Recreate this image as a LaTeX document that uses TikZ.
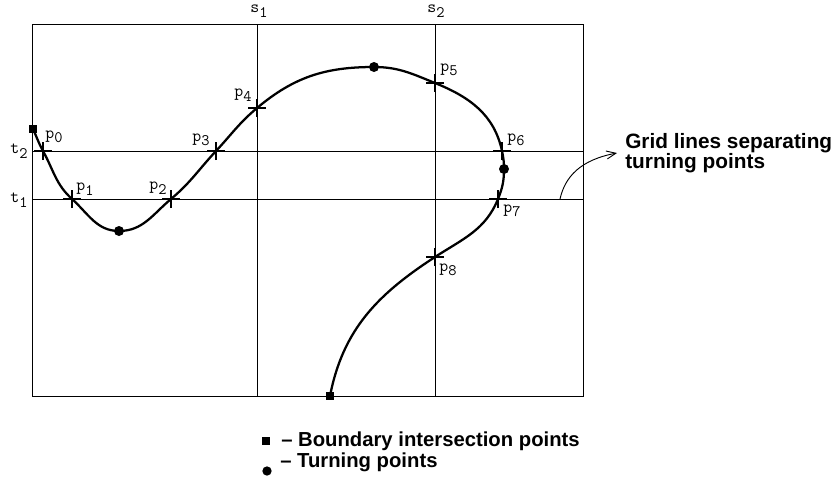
\documentclass[tikz,border=0pt]{standalone}
\usepackage{fontspec}
\newfontfamily\hv{Liberation Sans}
\usetikzlibrary{arrows.meta}
\newcommand{\sublab}[2]{\fontsize{13}{13}\selectfont\ttfamily #1\raisebox{-0.6ex}{\fontsize{12}{12}\selectfont #2}}
\begin{document}
\begin{tikzpicture}[x=0.75pt,y=0.75pt,
  gridline/.style={line width=0.75pt},
  curveline/.style={line width=1.7pt},
  xmark/.style={line width=1.9pt},
  bsq/.style={fill=black,draw=none,minimum size=6.5pt,inner sep=0pt,rectangle},
  tcirc/.style={fill=black,draw=none,minimum size=7.5pt,inner sep=0pt,circle},
  lab/.style={inner sep=0pt,anchor=center},
  legtext/.style={font=\hv\bfseries\fontsize{15.2}{15.2}\selectfont,inner sep=0pt,anchor=base west},
  annot/.style={font=\hv\bfseries\fontsize{15.6}{15.6}\selectfont,inner sep=0pt,anchor=base west}]
\useasboundingbox (0,0) rectangle (838,-486);
% frame and grid
\coordinate (TL) at (32,-24);
\coordinate (BR) at (583,-396);
\draw[gridline] (TL) rectangle (BR);
\coordinate (s1t) at (257,-24); \coordinate (s1b) at (257,-396);
\coordinate (s2t) at (435,-24); \coordinate (s2b) at (435,-396);
\coordinate (t1l) at (32,-199); \coordinate (t1r) at (583,-199);
\coordinate (t2l) at (32,-151); \coordinate (t2r) at (583,-151);
\draw[gridline] (s1t) -- (s1b);
\draw[gridline] (s2t) -- (s2b);
\draw[gridline] (t1l) -- (t1r);
\draw[gridline] (t2l) -- (t2r);
% curve points
\coordinate (B0) at (33,-129);
\coordinate (P0) at (43,-151);
\coordinate (P1) at (72,-199);
\coordinate (T1) at (119,-231);
\coordinate (P2) at (171,-199);
\coordinate (P3) at (216,-151);
\coordinate (P4) at (257,-108);
\coordinate (T2) at (374,-67);
\coordinate (P5) at (435,-83);
\coordinate (P6) at (502,-151);
\coordinate (T3) at (504,-169);
\coordinate (P7) at (498,-199);
\coordinate (P8) at (435,-257);
\coordinate (B1) at (330,-396);
\draw[curveline,line join=round]
  (B0) to[out=-65,in=119] (P0)
       to[out=-61,in=138] (P1)
       to[out=-42,in=180] (T1)
       to[out=0,in=220] (P2)
       to[out=40,in=227] (P3)
       to[out=47,in=220] (P4)
       to[out=40,in=180] (T2)
       to[out=0,in=158] (P5)
       to[out=-22,in=102] (P6)
       to[out=-78,in=90] (T3)
       to[out=-90,in=68] (P7)
       to[out=-112,in=33] (P8)
       to[out=-147,in=79] (B1);
% crosses
\foreach \p in {P0,P1,P2,P3,P4,P5,P6,P7,P8}{
  \draw[xmark] (\p) ++(-9,0) -- ++(18,0);
  \draw[xmark] (\p) ++(0,-9) -- ++(0,18);
}
% markers
\node[bsq] (b0) at (B0) {};
\node[bsq] (b1) at (B1) {};
\node[tcirc] (c1) at (T1) {};
\node[tcirc] (c2) at (T2) {};
\node[tcirc] (c3) at (T3) {};
% labels
\node[lab] (l0) at (54,-137) {\sublab{p}{0}};
\node[lab] (l1) at (85,-189) {\sublab{p}{1}};
\node[lab] (l2) at (158,-188) {\sublab{p}{2}};
\node[lab] (l3) at (201,-140) {\sublab{p}{3}};
\node[lab] (l4) at (243,-95) {\sublab{p}{4}};
\node[lab] (l5) at (449,-70) {\sublab{p}{5}};
\node[lab] (l6) at (516,-140) {\sublab{p}{6}};
\node[lab] (l7) at (512,-211) {\sublab{p}{7}};
\node[lab] (l8) at (448,-270) {\sublab{p}{8}};
\node[lab] (ls1) at (259,-11) {\sublab{s}{1}};
\node[lab] (ls2) at (436,-11) {\sublab{s}{2}};
\node[lab] (lt1) at (19,-200) {\sublab{t}{1}};
\node[lab] (lt2) at (19,-151) {\sublab{t}{2}};
% annotation
\node[annot] (g1) at (625,-148) {Grid lines separating};
\node[annot] (g2) at (625,-168) {turning points};
\coordinate (astart) at (560,-199);
\coordinate (aend) at (617,-153);
\draw[line width=0.7pt,-{Straight Barb[length=7pt,width=6pt,line width=0.7pt]}] (astart) .. controls (565,-177) and (580,-160) .. (aend);
% legend
\node[bsq,minimum size=6pt] (lsq) at (266,-441) {};
\node[legtext] (leg1) at (281,-446) {– Boundary intersection points};
\node[tcirc,minimum size=7pt] (lci) at (267,-471) {};
\node[legtext] (leg2) at (280,-467) {– Turning points};
\end{tikzpicture}
\end{document}
